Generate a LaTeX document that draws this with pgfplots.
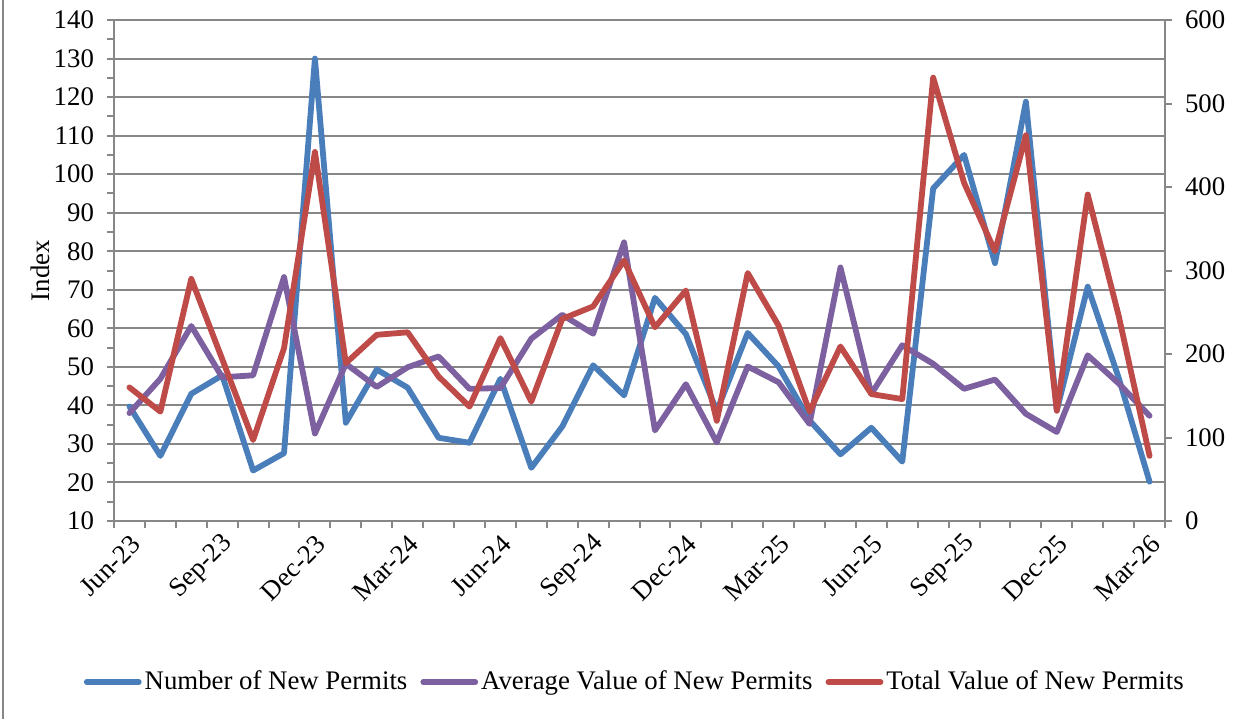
\documentclass[border=0pt]{standalone}
\usepackage{fontspec}
\setmainfont{Liberation Serif}
\usepackage{pgfplots}
\usepackage{pgfplotstable}
\pgfplotsset{compat=1.18}
\definecolor{cblue}{HTML}{4A7EBB}
\definecolor{cpurple}{HTML}{7D60A0}
\definecolor{cred}{HTML}{BE4B48}
\definecolor{cgrid}{HTML}{878787}

\pgfplotstableread{
i num avg
0 39.7 38.0
1 26.9 46.9
2 43.0 60.6
3 47.8 47.3
4 23.1 47.8
5 27.6 73.3
6 130.0 32.7
7 35.5 50.8
8 49.3 44.8
9 44.6 49.9
10 31.6 52.7
11 30.3 44.3
12 46.9 44.5
13 23.8 57.3
14 34.5 63.5
15 50.4 58.6
16 42.6 82.3
17 67.9 33.5
18 58.5 45.5
19 38.5 30.4
20 58.8 50.1
21 50.1 46.0
22 36.1 35.2
23 27.3 75.8
24 34.2 43.0
25 25.4 55.6
26 96.3 50.8
27 105.0 44.3
28 76.9 46.7
29 118.8 37.8
30 38.7 33.1
31 70.8 53.0
32 47.2 45.7
33 20.2 37.3
}\permits

\pgfplotstableread{
i total
0 160
1 131
2 290
3 194
4 97
5 207
6 442
7 189
8 223
9 226
10 173
11 137
12 219
13 143
14 242
15 257
16 312
17 232
18 276
19 120
20 297
21 234
22 131
23 209
24 152
25 146
26 531
27 405
28 323
29 462
30 132
31 391
32 246
33 78
}\totalval

\newcommand{\chartfont}{\fontsize{13.4}{16}\selectfont}

\begin{document}
\begin{tikzpicture}
\path[use as bounding box] (0,0) rectangle (625.5pt,359.5pt);
\draw[cgrid, line width=1pt] (1.5pt,0) -- (1.5pt,359.5pt);
\begin{axis}[
  at={(57pt,99pt)}, anchor=south west,
  scale only axis, width=525.5pt, height=250.5pt,
  xmin=-0.5, xmax=33.5, ymin=10, ymax=140,
  axis y line*=left, axis x line*=bottom,
  axis line style={cgrid, line width=1pt},
  every tick/.style={cgrid, line width=1pt},
  tick align=outside,
  major tick length=3.5pt, minor tick length=3.5pt,
  xtick={0,3,...,33},
  xticklabels={Jun-23,Sep-23,Dec-23,Mar-24,Jun-24,Sep-24,Dec-24,Mar-25,Jun-25,Sep-25,Dec-25,Mar-26},
  major x tick style={draw=none},
  minor xtick={-0.5,0.5,...,33.5},
  ytick={10,20,...,140},
  minor ytick={15,25,...,135},
  ymajorgrids,
  grid style={cgrid, line width=1pt},
  ticklabel style={font=\chartfont},
  /pgf/number format/assume math mode=true,
  yticklabel style={xshift=-3pt},
  xticklabel style={rotate=45, anchor=east, xshift=1.5pt, yshift=-6.5pt},
  ylabel={Index},
  every axis y label/.style={at={(axis description cs:-0.070,0.5)}, rotate=90, anchor=center, font=\chartfont},
  clip=false,
]
\addplot[cblue, line width=2.9pt, line join=round, line cap=round] table[x=i, y=num]{\permits};
\addplot[cpurple, line width=2.9pt, line join=round, line cap=round] table[x=i, y=avg]{\permits};
\end{axis}
\begin{axis}[
  at={(57pt,99pt)}, anchor=south west,
  scale only axis, width=525.5pt, height=250.5pt,
  xmin=-0.5, xmax=33.5, ymin=0, ymax=600,
  axis y line*=right, axis x line=none,
  axis line style={cgrid, line width=1pt},
  every tick/.style={cgrid, line width=1pt},
  tick align=outside,
  major tick length=3.5pt,
  ytick={0,100,...,600},
  ticklabel style={font=\chartfont},
  /pgf/number format/assume math mode=true,
  yticklabel style={xshift=3pt},
  clip=false,
  legend style={at={(axis description cs:0.496,-0.3214)}, anchor=center, draw=none, fill=none,
    legend columns=-1, font=\chartfont,
    nodes={inner xsep=1.5pt},
    /tikz/every even column/.append style={column sep=5pt}},
  legend image code/.code={\draw[#1, line cap=round] (0pt,0pt) -- (26pt,0pt);},
]
\addlegendimage{cblue, line width=2.9pt}
\addlegendentry{Number of New Permits}
\addlegendimage{cpurple, line width=2.9pt}
\addlegendentry{Average Value of New Permits}
\addplot[cred, line width=2.9pt, line join=round, line cap=round] table[x=i, y=total]{\totalval};
\addlegendentry{Total Value of New Permits}
\end{axis}
\end{tikzpicture}
\end{document}
